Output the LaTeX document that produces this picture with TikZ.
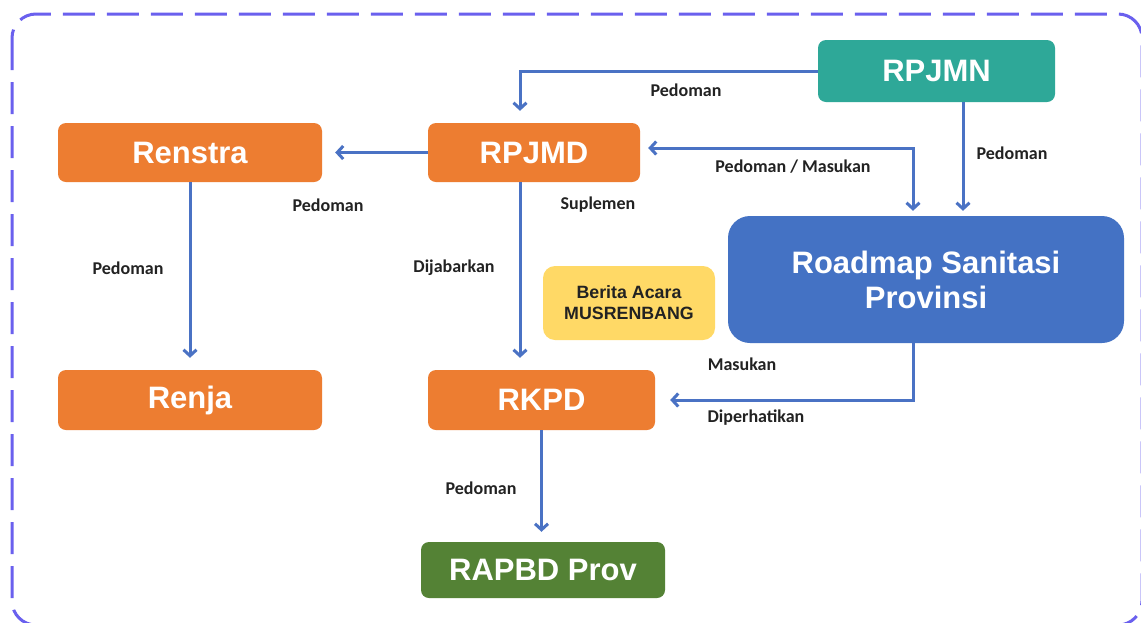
\documentclass[tikz,border=0pt]{standalone}
\usepackage{fontspec}
\setmainfont{Liberation Sans}
\newfontfamily\labfont{Carlito}
\usetikzlibrary{arrows.meta,calc}
\definecolor{borderc}{RGB}{106,96,238}
\definecolor{orng}{RGB}{237,125,49}
\definecolor{tealc}{RGB}{46,168,152}
\definecolor{bluc}{RGB}{68,114,196}
\definecolor{grnc}{RGB}{84,130,53}
\definecolor{yelc}{RGB}{255,217,102}
\definecolor{arrc}{RGB}{74,114,196}
\definecolor{txtc}{RGB}{34,34,34}
\begin{document}
\begin{tikzpicture}[x=1pt,y=-1pt,
 box/.style={rounded corners=8pt, text=white, font=\fontsize{31}{35}\selectfont\bfseries, inner sep=0pt, align=center},
 arr/.style={draw=arrc, line width=3pt, -{Straight Barb[length=6pt,width=13pt]}, shorten >=10pt},
 lab/.style={text=txtc, font=\labfont\fontsize{18}{20}\selectfont\bfseries, inner sep=0pt}]
\path[use as bounding box] (0,0) rectangle (1141,622);
\fill[white] (0,0) rectangle (1141,622);
\draw[borderc, line width=3pt, dash pattern=on 32pt off 12pt, rounded corners=24pt] (12,14) rectangle (1142,625);

\node[box, fill=tealc, minimum width=237pt, minimum height=62pt] (rpjmn) at (936.5,71) {RPJMN};
\node[box, fill=orng, minimum width=212pt, minimum height=59pt] (rpjmd) at (534,152.5) {RPJMD};
\node[box, fill=orng, minimum width=264pt, minimum height=59pt] (renstra) at (190,152.5) {Renstra};
\node[box, fill=orng, minimum width=264pt, minimum height=60pt] (renja) at (190,400) {Renja};
\node[box, fill=orng, minimum width=227pt, minimum height=60pt] (rkpd) at (541.5,400) {RKPD};
\node[box, fill=grnc, minimum width=244pt, minimum height=56pt] (rapbd) at (543,570) {RAPBD Prov};
\node[box, fill=bluc, rounded corners=22pt, minimum width=396pt, minimum height=127pt] (roadmap) at (926,279.5) {Roadmap Sanitasi\\Provinsi};
\node[box, fill=yelc, rounded corners=12pt, text=txtc, font=\fontsize{17.8}{21}\selectfont\bfseries, minimum width=172pt, minimum height=74pt] (berita) at (629,303) {Berita Acara\\MUSRENBANG};

\coordinate (c1) at ([xshift=-14pt]rpjmd.north);
\coordinate (c2) at ([yshift=4.5pt]rpjmd.east);
\coordinate (c3) at ([xshift=-13pt]roadmap.north);
\coordinate (c4) at ([xshift=26.5pt]rpjmn.south);
\coordinate (c5) at ([xshift=-14pt]rpjmd.south);
\coordinate (c6) at ([xshift=-13pt]roadmap.south);

\draw[arr, shorten >=12pt] (rpjmn.west) -| (c1);
\draw[arr, shorten >=13pt] (rpjmd.west) -- (renstra.east);
\draw[arr, {Straight Barb[length=6pt,width=13pt]}-{Straight Barb[length=6pt,width=13pt]}, shorten <=8pt, shorten >=5pt] (c2) -| (c3);
\draw[arr, shorten >=5pt] (c4) -- (c4 |- roadmap.north);
\draw[arr, shorten >=12pt] (c5) -- (c5 |- rkpd.north);
\draw[arr, shorten >=15pt] (c6) |- (rkpd.east);
\draw[arr] (rkpd.south) -- (rkpd.south |- rapbd.north);
\draw[arr, shorten >=12pt] (renstra.south) -- (renja.north);

\node[lab] (l1) at (686,90) {Pedoman};
\node[lab] (l2) at (793,167) {Pedoman / Masukan};
\node[lab] (l3) at (1012,153) {Pedoman};
\node[lab] (l4) at (598,205) {Suplemen};
\node[lab] (l5) at (328,205) {Pedoman};
\node[lab] (l6) at (128,268) {Pedoman};
\node[lab] (l7) at (454,268) {Dijabarkan};
\node[lab] (l8) at (742,364) {Masukan};
\node[lab] (l9) at (756,418) {Diperhatikan};
\node[lab] (l10) at (481,488) {Pedoman};
\end{tikzpicture}
\end{document}
